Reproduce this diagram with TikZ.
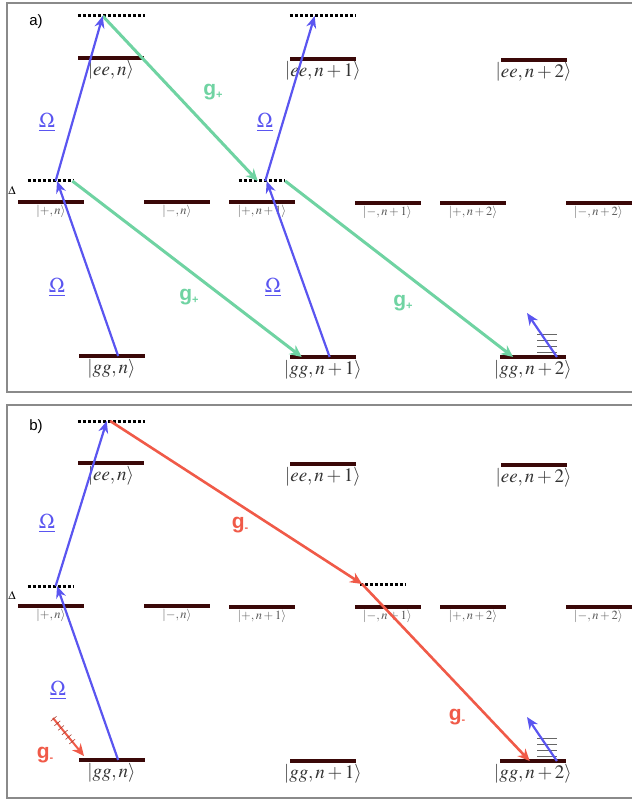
\documentclass[tikz,border=0pt]{standalone}
\usepackage{mathptmx}
\usepackage{fontspec}
\setsansfont{Liberation Sans}
\usetikzlibrary{arrows.meta,positioning,calc}
\definecolor{lvlcol}{HTML}{3A0808}
\definecolor{pump}{HTML}{5A55F0}
\definecolor{cavp}{HTML}{6FD3A2}
\definecolor{cavm}{HTML}{F05A48}
\definecolor{framecol}{HTML}{8A8A8A}
\newcommand{\kt}[1]{$\left|#1\right\rangle$}
\newcommand{\gp}{\textsf{\bfseries g\raisebox{-0.3ex}{\fontsize{11}{11}\selectfont +}}}
\newcommand{\gm}{\textsf{\bfseries g\raisebox{-0.3ex}{\fontsize{11}{11}\selectfont -}}}

\begin{document}
\begin{tikzpicture}[x=1pt, y=-1pt,
    level/.style={fill=lvlcol, minimum width=66pt, minimum height=4pt, inner sep=0pt},
    vnode/.style={minimum width=46pt, minimum height=0pt, inner sep=0pt},
    vdots/.style={line width=3pt, dash pattern=on 3pt off 2pt},
    bigket/.style={font=\fontsize{19}{19}\selectfont, text=black!80, inner sep=0.5pt},
    smallket/.style={font=\fontsize{12.5}{12.5}\selectfont, text=black!65, inner sep=0.5pt},
    laser/.style={draw=pump, line width=2.2pt, -{Stealth[length=12pt,width=10pt]}},
    cplus/.style={draw=cavp, line width=3pt, -{Stealth[length=12pt,width=11pt]}},
    cminus/.style={draw=cavm, line width=2.6pt, -{Stealth[length=12pt,width=11pt]}},
    omlab/.style={text=pump, font=\fontsize{21}{21}\selectfont},
    gplab/.style={text=cavp, font=\fontsize{21}{21}\selectfont},
    gmlab/.style={text=cavm, font=\fontsize{21}{21}\selectfont},
    hatch/.style={draw=black!60, line width=0.7pt},
    frame/.style={draw=framecol, line width=1.5pt}
]
    \useasboundingbox (0,0) rectangle (631,802);

    % Panel a
    \draw[frame] (7,3) rectangle (645,392);
    \node[font=\sffamily\fontsize{15}{15}\selectfont] (labA) at (36,22) {a)};

    % virtual levels a
    \node[vnode, minimum width=67pt] (tA0) at (111.5,16) {};
    \node[vnode, minimum width=65pt] (tA1) at (322.5,16) {};
    \node[vnode] (dA0) at (51,181) {};
    \node[vnode] (dA1) at (262,181) {};
    \draw[vdots] (tA0.west) -- (tA0.east);
    \draw[vdots] (tA1.west) -- (tA1.east);
    \draw[vdots] (dA0.west) -- (dA0.east);
    \draw[vdots] (dA1.west) -- (dA1.east);
    \node[font=\fontsize{12}{12}\selectfont] (delA) at (12,190) {$\Delta$};

    % real levels a
    \node[level, label={[bigket]below:\kt{ee,n}}] (eeA0) at (111,58) {};
    \node[level, label={[bigket]below:\kt{ee,n+1}}] (eeA1) at (323,59) {};
    \node[level, label={[bigket]below:\kt{ee,n+2}}] (eeA2) at (533.5,60) {};
    \node[level, label={[smallket]below:\kt{+,n}}] (pA0) at (51,202) {};
    \node[level, label={[smallket]below:\kt{-,n}}] (mA0) at (177,202) {};
    \node[level, label={[smallket]below:\kt{+,n+1}}] (pA1) at (262,202) {};
    \node[level, label={[smallket]below:\kt{-,n+1}}] (mA1) at (387.5,203) {};
    \node[level, label={[smallket]below:\kt{+,n+2}}] (pA2) at (473,203) {};
    \node[level, label={[smallket]below:\kt{-,n+2}}] (mA2) at (598.5,203) {};
    \node[level, label={[bigket]below:\kt{gg,n}}] (ggA0) at (111.5,356) {};
    \node[level, label={[bigket]below:\kt{gg,n+1}}] (ggA1) at (323,357) {};
    \node[level, label={[bigket]below:\kt{gg,n+2}}] (ggA2) at (533,357) {};

    % transitions a
    \draw[cplus] ($(tA0.west)!0.37!(tA0.east)$) -- ($(dA1.west)!0.41!(dA1.east)$);
    \draw[cplus] ($(dA0.west)!0.96!(dA0.east)$) -- ($(ggA1.west)!0.18!(ggA1.east)$);
    \draw[cplus] (dA1.east) -- ($(ggA2.west)!0.2!(ggA2.east)$);
    \draw[laser] ($(ggA0.west)!0.6!(ggA0.east)$) -- ($(dA0.west)!0.63!(dA0.east)$);
    \draw[laser] ($(dA0.west)!0.6!(dA0.east)$) -- ($(tA0.west)!0.37!(tA0.east)$);
    \draw[laser] ($(ggA1.west)!0.6!(ggA1.east)$) -- ($(dA1.west)!0.6!(dA1.east)$);
    \draw[laser] ($(dA1.west)!0.57!(dA1.east)$) -- ($(tA1.west)!0.38!(tA1.east)$);

    % thermal kick a
    \foreach \yy in {334,340,346,352} \draw[hatch] (537,\yy) -- (557,\yy);
    \coordinate (kickA) at (527,313);
    \draw[laser] ($(ggA2.west)!0.86!(ggA2.east)$) -- (kickA);

    \node[omlab] (omA0) at (47,122) {\underline{$\Omega$}};
    \node[omlab] (omA1) at (57,287) {\underline{$\Omega$}};
    \node[omlab] (omA2) at (265,122) {\underline{$\Omega$}};
    \node[omlab] (omA3) at (273,287) {\underline{$\Omega$}};
    \node[gplab] (gpA0) at (213,92) {\gp};
    \node[gplab] (gpA1) at (189,297) {\gp};
    \node[gplab] (gpA2) at (403,303) {\gp};

    % Panel b
    \draw[frame] (7,405) rectangle (645,798);
    \node[font=\sffamily\fontsize{15}{15}\selectfont] (labB) at (36,427) {b)};

    % virtual levels b
    \node[vnode, minimum width=67pt] (tB0) at (111.5,421) {};
    \node[vnode] (dB0) at (51,586) {};
    \node[vnode, minimum width=45pt] (dB1) at (382.5,584) {};
    \draw[vdots] (tB0.west) -- (tB0.east);
    \draw[vdots] (dB0.west) -- (dB0.east);
    \draw[vdots] (dB1.west) -- (dB1.east);
    \node[font=\fontsize{12}{12}\selectfont] (delB) at (12,595) {$\Delta$};

    % real levels b
    \node[level, label={[bigket]below:\kt{ee,n}}] (eeB0) at (111,463) {};
    \node[level, label={[bigket]below:\kt{ee,n+1}}] (eeB1) at (323,464) {};
    \node[level, label={[bigket]below:\kt{ee,n+2}}] (eeB2) at (533.5,465) {};
    \node[level, label={[smallket]below:\kt{+,n}}] (pB0) at (51,606) {};
    \node[level, label={[smallket]below:\kt{-,n}}] (mB0) at (177,606) {};
    \node[level, label={[smallket]below:\kt{+,n+1}}] (pB1) at (262,607) {};
    \node[level, label={[smallket]below:\kt{-,n+1}}] (mB1) at (387.5,607) {};
    \node[level, label={[smallket]below:\kt{+,n+2}}] (pB2) at (473,607) {};
    \node[level, label={[smallket]below:\kt{-,n+2}}] (mB2) at (598.5,607) {};
    \node[level, label={[bigket]below:\kt{gg,n}}] (ggB0) at (111.5,760) {};
    \node[level, label={[bigket]below:\kt{gg,n+1}}] (ggB1) at (323,761) {};
    \node[level, label={[bigket]below:\kt{gg,n+2}}] (ggB2) at (533,761) {};

    % transitions b
    \draw[laser] ($(ggB0.west)!0.6!(ggB0.east)$) -- ($(dB0.west)!0.63!(dB0.east)$);
    \draw[laser] ($(dB0.west)!0.6!(dB0.east)$) -- ($(tB0.west)!0.43!(tB0.east)$);
    \draw[cminus] ($(tB0.west)!0.48!(tB0.east)$) -- ($(dB1.west)!0.05!(dB1.east)$);
    \draw[cminus] ($(dB1.west)!0.05!(dB1.east)$) -- ($(ggB2.west)!0.45!(ggB2.east)$);

    % incoming cavity photon b
    \coordinate (photIn) at (53,718);
    \coordinate (photOut) at (84,756);
    \draw[cminus, line width=2pt] (photIn) -- (photOut);
    \foreach \t in {0.02,0.14,0.26,0.38,0.5,0.62}
        \draw[cavm!70!black, line width=0.6pt] ($(photIn)!\t!(photOut)+(-2.9,2.4)$) -- ($(photIn)!\t!(photOut)+(2.9,-2.4)$);

    % thermal kick b
    \foreach \yy in {738,744,750,756} \draw[hatch] (537,\yy) -- (557,\yy);
    \coordinate (kickB) at (527,717);
    \draw[laser] ($(ggB2.west)!0.86!(ggB2.east)$) -- (kickB);

    \node[omlab] (omB0) at (47,523) {\underline{$\Omega$}};
    \node[omlab] (omB1) at (58,690) {\underline{$\Omega$}};
    \node[gmlab] (gmB0) at (240,525) {\gm};
    \node[gmlab] (gmB1) at (457,717) {\gm};
    \node[gmlab] (gmB2) at (45,755) {\gm};
\end{tikzpicture}
\end{document}
